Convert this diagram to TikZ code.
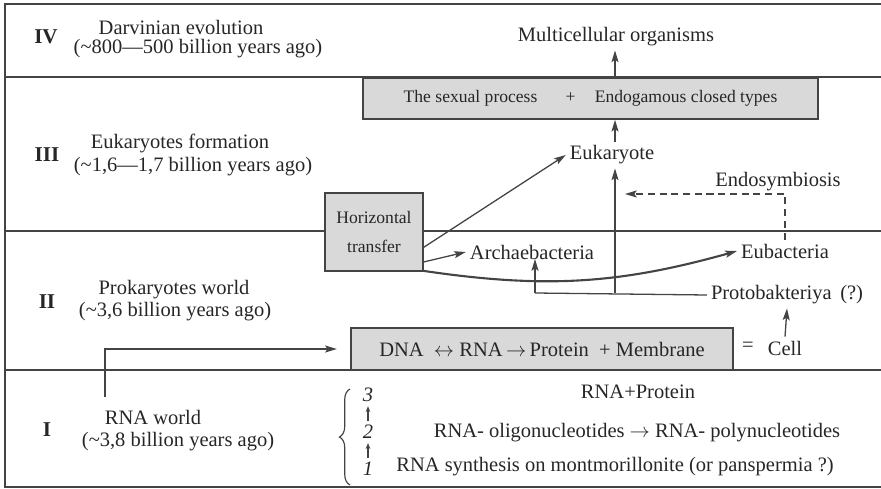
\documentclass[tikz,border=0pt]{standalone}
\usepackage{fontspec}
\setmainfont{Liberation Serif}
\usetikzlibrary{arrows.meta,positioning,decorations.pathreplacing}
\definecolor{linegray}{HTML}{444444}
\definecolor{txtgray}{HTML}{262626}
\definecolor{boxgray}{HTML}{D9D9D9}

\begin{document}
\begin{tikzpicture}
[x=0.03cm,y=-0.03cm,
every node/.style={text=txtgray,font=\fontsize{17.5}{21}\selectfont},
era/.style={font=\fontsize{18}{21}\selectfont\bfseries},
boxtext/.style={font=\fontsize{15}{18}\selectfont},
num/.style={font=\fontsize{17.5}{21}\selectfont\itshape,inner sep=3.5pt},
box/.style={draw=linegray,fill=boxgray,line width=1.4pt,inner sep=0pt},
wall/.style={draw=linegray,line width=1.5pt},
arr/.style={draw=linegray,line width=1.1pt,-{Stealth[length=10pt,width=6pt,inset=2pt]}},
smallarr/.style={draw=linegray,line width=0.9pt,-{Stealth[length=5pt,width=4pt]}}]

\useasboundingbox (0,0) rectangle (881,489);

\draw[wall] (881,4) -- (5,4) -- (5,487) -- (881,487);
\draw[wall] (5,77) -- (881,77);
\draw[wall] (5,231) -- (881,231);
\draw[wall] (5,370) -- (881,370);

\node[era] (IV) at (46,37) {IV};
\node (darv) at (181,27) {Darvinian evolution};
\node (darvt) at (198,49) {(\textasciitilde 800\textemdash 500 billion years ago)};

\node[era] (III) at (47,155) {III};
\node (euf) at (180,143) {Eukaryotes formation};
\node (euft) at (193,167) {(\textasciitilde 1,6\textemdash 1,7 billion years ago)};

\node[era] (II) at (47,302) {II};
\node (prok) at (174,290) {Prokaryotes world};
\node (prokt) at (175,312) {(\textasciitilde 3,6 billion years ago)};

\node[era] (I) at (47,430) {I};
\node (rnaw) at (153,417) {RNA world};
\node (rnawt) at (178,442) {(\textasciitilde 3,8 billion years ago)};

\node[box,boxtext,minimum width=13.65cm,minimum height=1.23cm] (sex) at (590.5,98.5) {The sexual process\hspace{1.6em}+\hspace{1.1em}Endogamous closed types\hspace{1.4em}};
\node[box,align=center,minimum width=2.94cm,minimum height=2.34cm,font=\fontsize{15}{24}\selectfont] (ht) at (374,232) {Horizontal\\transfer};
\node[box,minimum width=11.46cm,minimum height=1.26cm] (dna) at (542,349) {DNA\enspace$\leftrightarrow$ RNA\,$\rightarrow$\,Protein\enspace+ Membrane\hspace{12pt}};

\node (multi) at (616,37) {Multicellular organisms};
\node (euk) at (612,155) {Eukaryote};
\node (endo) at (778,182) {Endosymbiosis};
\node (archae) at (532,252) {Archaebacteria};
\node (eubac) at (785,251) {Eubacteria};
\node (proto) at (787,295) {Protobakteriya\ \,(?)};
\node (eq) at (748,347) {=};
\node (cell) at (785,348) {Cell};

\coordinate (jA) at (535,293);
\coordinate (jE) at (615,293);
\coordinate (endoend) at (625,194);
\coordinate (rnastart) at (105,397);

\draw[arr] (sex.north -| jE) -- (multi.south -| jE);
\draw[arr] (euk.north -| jE) -- (sex.south -| jE);
\draw[arr] (jE) -- (euk.south -| jE);
\draw[draw=linegray,line width=1.1pt] (proto.west) -- (jA);
\draw[arr] (jA) -- (archae.base -| jA);
\draw[arr] (cell.north) -- (proto.south);
\draw[arr,dash pattern=on 6pt off 4pt] (eubac.north) |- (endoend);
\draw[arr] (ht.-17) -- (euk.west);
\draw[arr] (ht.-31) -- (archae.west);
\draw[arr,line width=1.8pt] (ht.-38) to[bend right=12] (eubac.west);
\draw[arr,shorten >=0.4cm] (rnastart) |- (dna.west);

\node[num] (n3) at (368,395) {3};
\node[num] (n2) at (368,432) {2};
\node[num] (n1) at (368,469) {1};
\draw[smallarr] (n1) -- (n2);
\draw[smallarr] (n2) -- (n3);
\draw[draw=linegray,line width=1pt,decorate,decoration={brace,amplitude=9pt}] (350,485) -- (350,389);

\node (rp) at (638,392) {RNA+Protein};
\node (oligo) at (637,433) {RNA- oligonucleotides $\rightarrow$ RNA- polynucleotides};
\node (synth) at (615,467) {RNA synthesis on montmorillonite (or panspermia ?)};
\end{tikzpicture}
\end{document}
